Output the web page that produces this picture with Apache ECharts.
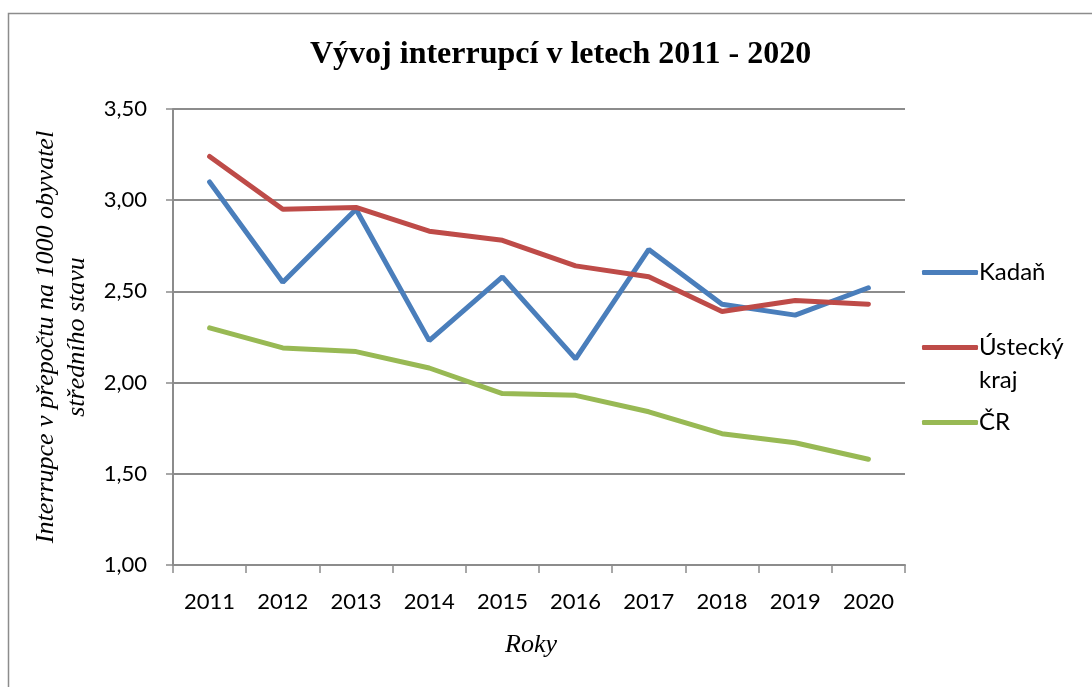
<!DOCTYPE html>
<html>
<head>
<meta charset="utf-8">
<script src="https://cdn.jsdelivr.net/npm/echarts@6/dist/echarts.min.js"></script>
<style>
  html, body { margin: 0; padding: 0; background: #fff; }
  #main { width: 1092px; height: 687px; }
</style>
</head>
<body>
<div id="main"></div>
<script>
var roky = ['2011','2012','2013','2014','2015','2016','2017','2018','2019','2020'];
var kadan = [3.10, 2.55, 2.95, 2.23, 2.58, 2.13, 2.73, 2.43, 2.37, 2.52];
var ustecky = [3.24, 2.95, 2.96, 2.83, 2.78, 2.64, 2.58, 2.39, 2.45, 2.43];
var cr = [2.30, 2.19, 2.17, 2.08, 1.94, 1.93, 1.84, 1.72, 1.67, 1.58];
var nazvy = ['Kadaň', 'Ústecký kraj', 'ČR'];
var barvy = ['#4a7ebb', '#be4b48', '#98b954'];

var myChart = echarts.init(document.getElementById('main'));

function legenda(name, top) {
	return {
		data: [name],
		left: 917,
		top: top,
		orient: 'vertical',
		icon: 'roundRect',
		itemWidth: 56,
		itemHeight: 5,
		itemGap: 0,
		// prazdny prvni radek, aby ikona sedela u "Ústecký"
		formatter: function(n){ return n == 'Ústecký kraj' ? '\nÚstecký\nkraj' : n; },
		textStyle: { fontFamily: 'Lato', fontSize: 24, color: '#000', lineHeight: 33, padding: [0, 0, 0, -4] }
	};
}

var option = {
	animation: false,
	title: {
		text: 'Vývoj interrupcí v letech 2011 - 2020',
		left: 305,
		top: 34,
		textStyle: { fontFamily: 'Liberation Serif', fontWeight: 'bold', fontSize: 32, color: '#000' }
	},
	graphic: [{
		type: 'rect',
		shape: { x: 8.5, y: 13.5, width: 1200, height: 800 },
		style: { fill: 'none', stroke: '#8c8c8c', lineWidth: 1.5 },
		silent: true
	}],
	legend: [legenda('Kadaň', 251), legenda('Ústecký kraj', 293), legenda('ČR', 401)],
	grid: { left: 173, right: 187, top: 109, bottom: 122 },
	xAxis: {
		type: 'category',
		data: roky,
		boundaryGap: true,
		name: 'Roky',
		nameLocation: 'middle',
		nameGap: 67,
		nameTextStyle: { fontFamily: 'Liberation Serif', fontStyle: 'italic', fontSize: 26, color: '#000', padding: [0, 16, 0, 0] },
		axisLine: { lineStyle: { color: '#8c8c8c', width: 2 } },
		axisTick: { show: true, length: 8, interval: 0, alignWithLabel: false, lineStyle: { color: '#8c8c8c', width: 1.5 } },
		axisLabel: { fontFamily: 'Lato', fontSize: 22, color: '#000', margin: 26, interval: 0 }
	},
	yAxis: {
		type: 'value',
		min: 1,
		max: 3.5,
		interval: 0.5,
		name: 'Interrupce v přepočtu na 1000 obyvatel\nstředního stavu',
		nameLocation: 'middle',
		nameGap: 76,
		nameTextStyle: { fontFamily: 'Liberation Serif', fontStyle: 'italic', fontSize: 26, color: '#000', lineHeight: 31 },
		axisLine: { show: true, lineStyle: { color: '#8c8c8c', width: 2 } },
		axisTick: { show: true, length: 7, lineStyle: { color: '#8c8c8c', width: 1.5 } },
		splitLine: { lineStyle: { color: '#8c8c8c', width: 2 } },
		axisLabel: {
			fontFamily: 'Lato', fontSize: 22, color: '#000', margin: 26,
			formatter: function(v){ return v.toFixed(2).replace('.', ','); }
		}
	},
	series: [
		{ name: nazvy[0], type: 'line', data: kadan, symbol: 'none', lineStyle: { width: 5, color: barvy[0], cap: 'round' }, itemStyle: { color: barvy[0] } },
		{ name: nazvy[1], type: 'line', data: ustecky, symbol: 'none', lineStyle: { width: 5, color: barvy[1], cap: 'round' }, itemStyle: { color: barvy[1] } },
		{ name: nazvy[2], type: 'line', data: cr, symbol: 'none', lineStyle: { width: 5, color: barvy[2], cap: 'round' }, itemStyle: { color: barvy[2] } }
	]
};

myChart.setOption(option);
</script>
</body>
</html>
